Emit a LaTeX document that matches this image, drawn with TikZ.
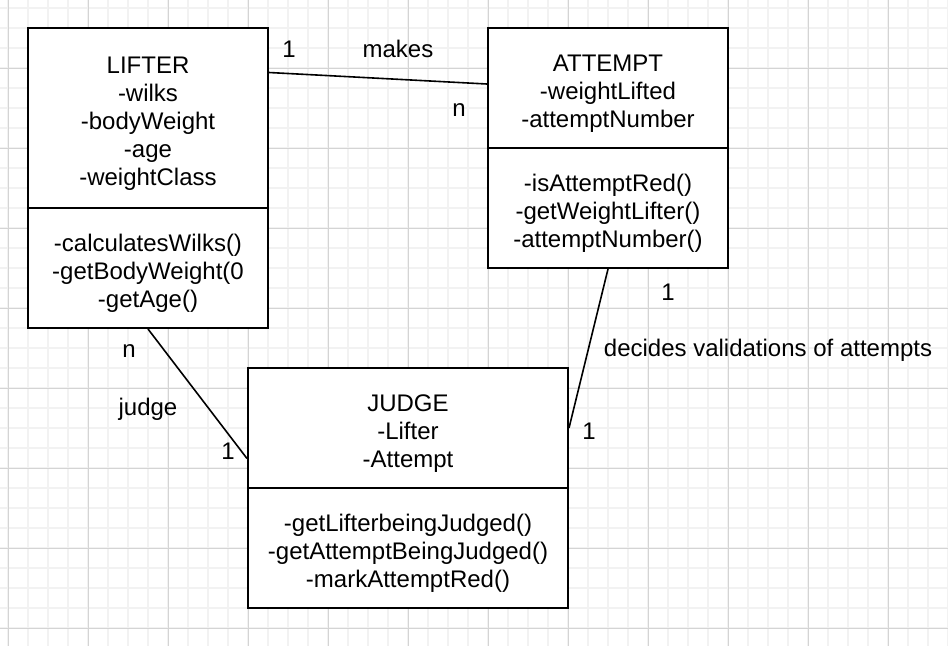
\documentclass[tikz,border=0pt]{standalone}
\usepackage{fontspec}
\setmainfont{Liberation Sans}
\usetikzlibrary{calc}
\definecolor{minorc}{HTML}{F2F2F2}
\definecolor{majorc}{HTML}{D4D4D4}
\tikzset{
  minorgrid/.style={draw=minorc, line width=1.6pt},
  majorgrid/.style={draw=majorc, line width=1pt},
  comp/.style={draw=black, line width=2pt, fill=white, inner sep=0pt},
  ctext/.style={align=center, inner sep=0pt, font=\fontsize{24}{28}\selectfont, yshift=-5.5pt},
  conn/.style={draw=black, line width=1.6pt},
  lbl/.style={inner sep=0pt, font=\fontsize{24}{28}\selectfont}
}
\begin{document}
\begin{tikzpicture}[x=1pt,y=-1pt]
\useasboundingbox (0,0) rectangle (948,646);
\fill[white] (0,0) rectangle (948,646);
% grid
\foreach \x in {8,28,...,948} \draw[minorgrid] (\x,0) -- (\x,646);
\foreach \y in {8,28,...,646} \draw[minorgrid] (0,\y) -- (948,\y);
\foreach \x in {8,88,...,948} \draw[majorgrid] (\x,0) -- (\x,646);
\foreach \y in {68,148,...,646} \draw[majorgrid] (0,\y) -- (948,\y);
% classes
\node[comp, minimum width=240, minimum height=180] (lifterA) at (148,118) {};
\node[comp, minimum width=240, minimum height=120] (lifterM) at (148,268) {};
\node[comp, minimum width=240, minimum height=120] (attemptA) at (608,88) {};
\node[comp, minimum width=240, minimum height=120] (attemptM) at (608,208) {};
\node[comp, minimum width=320, minimum height=120] (judgeA) at (408,428) {};
\node[comp, minimum width=320, minimum height=120] (judgeM) at (408,548) {};
\node[ctext] (lifterAt) at (lifterA.center) {LIFTER\\-wilks\\-bodyWeight\\-age\\-weightClass};
\node[ctext] (lifterMt) at (lifterM.center) {-calculatesWilks()\\-getBodyWeight(0\\-getAge()};
\node[ctext] (attemptAt) at (attemptA.center) {ATTEMPT\\-weightLifted\\-attemptNumber};
\node[ctext] (attemptMt) at (attemptM.center) {-isAttemptRed()\\-getWeightLifter()\\-attemptNumber()};
\node[ctext] (judgeAt) at (judgeA.center) {JUDGE\\-Lifter\\-Attempt};
\node[ctext] (judgeMt) at (judgeM.center) {-getLifterbeingJudged()\\-getAttemptBeingJudged()\\-markAttemptRed()};
% connectors
\draw[conn] ($(lifterA.north east)!0.25!(lifterA.south east)$) -- ($(attemptA.west)+(0,-4)$);
\draw[conn] (lifterM.south) -- ($(judgeA.north west)!0.75!(judgeA.south west)$);
\draw[conn] (attemptM.south) -- (judgeA.east);
% labels
\node[lbl] (m1) at (289,49) {1};
\node[lbl] (makes) at (398,49) {makes};
\node[lbl] (mn) at (459,110) {n};
\node[lbl] (d1) at (668,292) {1};
\node[lbl] (decides) at (768,350) {decides validations of attempts};
\node[lbl] (d2) at (589,431) {1};
\node[lbl] (jn) at (129,351) {n};
\node[lbl] (judge) at (148,409) {judge};
\node[lbl] (j1) at (228,451) {1};
\end{tikzpicture}
\end{document}
